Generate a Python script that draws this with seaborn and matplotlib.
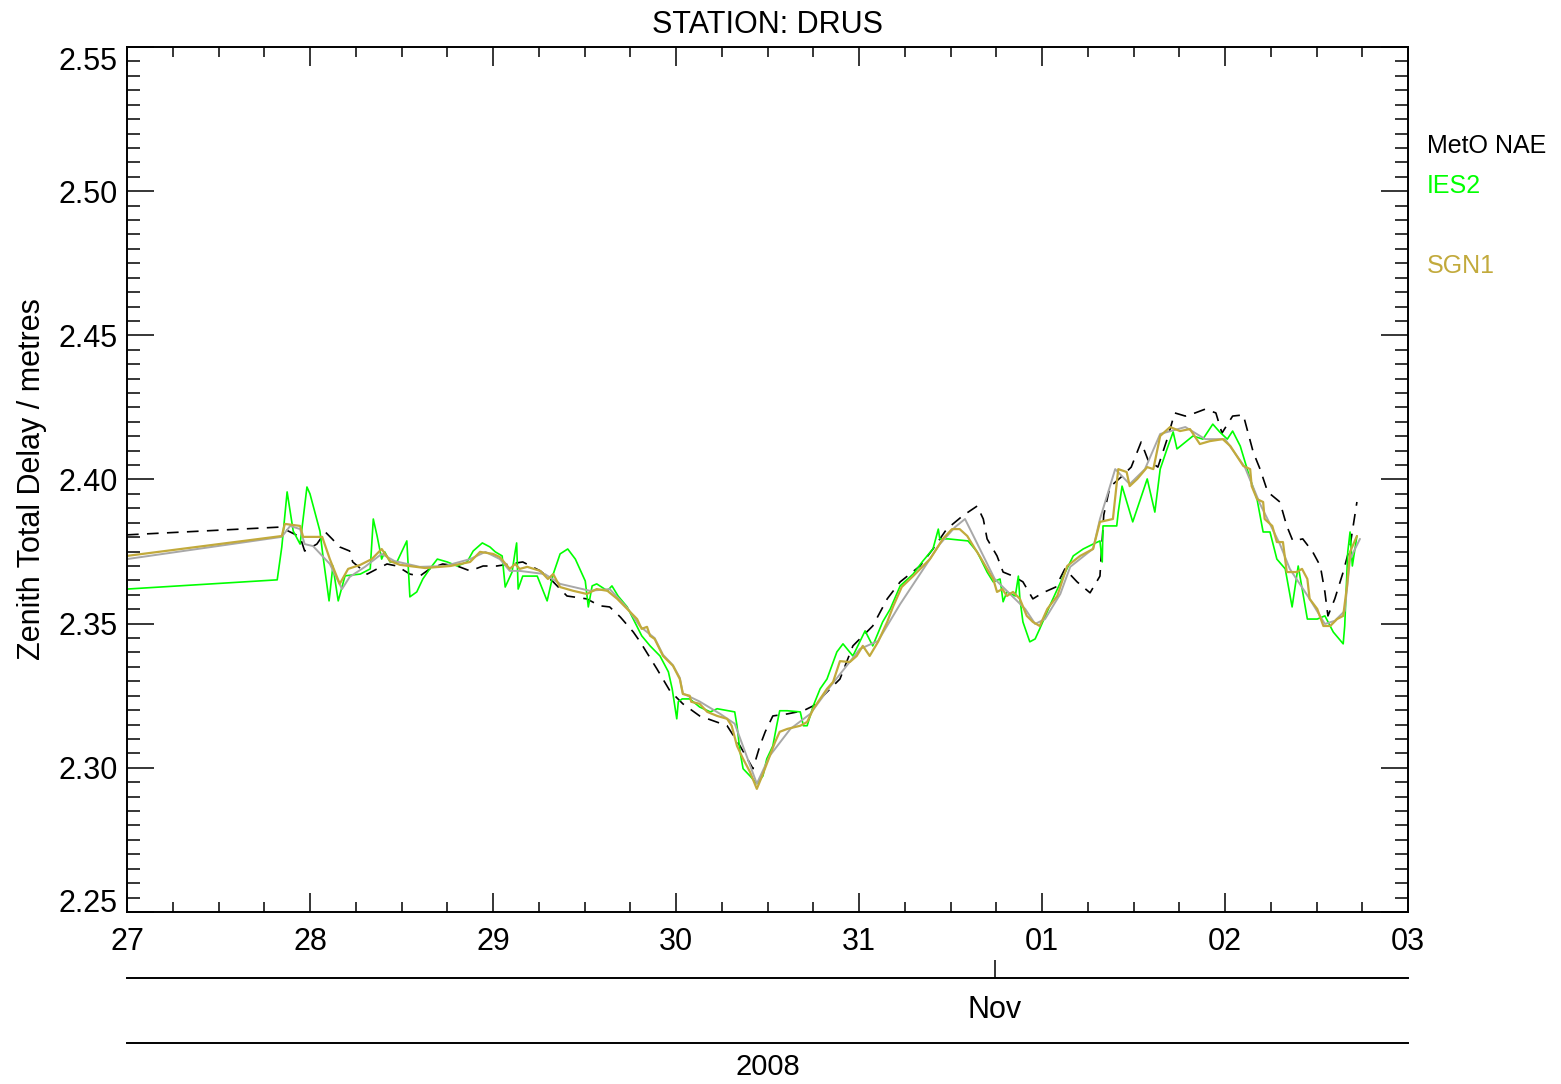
import numpy as np
import pandas as pd
import matplotlib
matplotlib.use("Agg")
import matplotlib.pyplot as plt
import seaborn as sns
from matplotlib.ticker import MultipleLocator, FixedLocator, FormatStrFormatter

# ---------------- data (hours since 27 Oct 2008 00:00, ZTD in metres) ----------------
meto_hours = [0, 20.1, 22.7, 23.3, 24.9, 26.0, 26.9, 27.9, 29.2, 29.6, 31.5, 32.8, 34.1, 35.4,
              37.1, 38.4, 39.7, 41.4, 43.3, 45.0, 46.7, 48.5, 50.2, 51.9, 54.2, 55.9, 57.7,
              60.3, 62.0, 63.3, 64.7, 66.4, 67.3, 69.5, 71.2, 72.9, 75.1, 78.7, 80.4, 82.1,
              83.0, 83.7, 84.7, 86.6, 88.7, 90.0, 91.8, 93.5, 95.2, 97.8, 99.7, 101.4, 104.0,
              105.7, 107.5, 109.6, 111.5, 112.3, 112.8, 114.1, 114.9, 116.2, 117.5, 118.8,
              120.1, 121.8, 123.0, 124.6, 126.3, 127.6, 128.1, 128.9, 130.4, 131.7, 133.0,
              133.9, 135.2, 136.5, 137.4, 138.8, 140.1, 141.4, 142.8, 143.6, 145.0, 146.4,
              147.7, 148.6, 149.6, 151.2, 152.1, 152.9, 154.2, 155.5, 156.5, 157.1, 157.5,
              158.4, 159.5, 160.4, 161.3]
meto_ztd = [2.3808, 2.3835, 2.3801, 2.3752, 2.3776, 2.3818, 2.3794, 2.3766, 2.3752, 2.3714,
            2.3672, 2.3690, 2.3707, 2.3700, 2.3672, 2.3665, 2.3690, 2.3707, 2.3700, 2.3683,
            2.3700, 2.3700, 2.3707, 2.3714, 2.3683, 2.3645, 2.3596, 2.3586, 2.3562, 2.3558,
            2.3523, 2.3471, 2.3437, 2.3343, 2.3267, 2.3222, 2.3180, 2.3146, 2.3076, 2.2997,
            2.3076, 2.3125, 2.3180, 2.3187, 2.3198, 2.3215, 2.3263, 2.3308, 2.3423, 2.3492,
            2.3586, 2.3645, 2.3700, 2.3759, 2.3828, 2.3874, 2.3908, 2.3863, 2.3794, 2.3735,
            2.3679, 2.3665, 2.3645, 2.3586, 2.3607, 2.3627, 2.3690, 2.3645, 2.3607, 2.3665,
            2.3877, 2.3974, 2.4009, 2.4043, 2.4130, 2.4068, 2.4043, 2.4147, 2.4231, 2.4220,
            2.4231, 2.4244, 2.4231, 2.4161, 2.4220, 2.4224, 2.4095, 2.4036, 2.3957, 2.3922,
            2.3839, 2.3787, 2.3794, 2.3749, 2.3700, 2.3610, 2.3527, 2.3586, 2.3679, 2.3769,
            2.3922]

ies2_hours = [0, 19.7, 20.3, 21.0, 21.8, 22.7, 23.6, 24.0, 25.3, 25.7, 26.5, 27.0, 27.7, 28.6,
              30.6, 31.9, 32.3, 32.8, 33.4, 33.8, 34.5, 35.4, 36.7, 37.1, 38.0, 38.8, 39.7,
              40.7, 42.0, 43.3, 44.6, 45.4, 46.6, 47.6, 48.3, 49.2, 49.6, 50.5, 50.9, 51.1,
              51.3, 51.9, 53.8, 55.1, 55.9, 56.8, 57.8, 58.8, 60.1, 60.5, 61.0, 61.6, 63.0,
              63.6, 64.4, 65.6, 66.4, 67.5, 68.6, 69.9, 71.0, 71.5, 72.1, 72.3, 72.8, 73.8,
              75.1, 76.5, 77.4, 79.7, 80.0, 80.4, 80.8, 81.7, 82.6, 83.4, 83.9, 84.7, 85.2,
              85.6, 86.6, 88.3, 88.7, 89.2, 90.0, 90.9, 91.8, 93.1, 93.9, 95.2, 96.8, 97.8,
              99.1, 100.1, 101.4, 103.1, 104.4, 105.7, 106.4, 106.6, 107.7, 110.3, 111.5,
              112.8, 113.6, 114.5, 114.9, 115.4, 116.5, 116.9, 117.1, 117.5, 118.4, 119.1,
              119.7, 121.0, 122.8, 124.1, 125.4, 126.7, 127.6, 127.9, 128.0, 129.8, 130.0,
              130.5, 131.9, 133.8, 134.8, 135.5, 136.4, 137.2, 137.7, 139.8, 141.1, 142.4,
              143.3, 144.3, 145.0, 146.0, 147.3, 148.2, 149.0, 149.9, 150.8, 151.9, 152.8,
              153.6, 154.8, 156.1, 157.1, 158.2, 159.5, 159.7, 160.1, 160.4, 160.7, 161.3]
ies2_ztd = [2.3620, 2.3652, 2.3766, 2.3957, 2.3821, 2.3776, 2.3974, 2.3950, 2.3821, 2.3735,
            2.3579, 2.3700, 2.3579, 2.3666, 2.3672, 2.3690, 2.3863, 2.3804, 2.3724, 2.3749,
            2.3714, 2.3714, 2.3787, 2.3593, 2.3610, 2.3655, 2.3690, 2.3724, 2.3714, 2.3700,
            2.3714, 2.3752, 2.3780, 2.3766, 2.3749, 2.3735, 2.3627, 2.3679, 2.3749, 2.3780,
            2.3620, 2.3665, 2.3665, 2.3579, 2.3672, 2.3742, 2.3759, 2.3724, 2.3648, 2.3558,
            2.3631, 2.3638, 2.3614, 2.3631, 2.3596, 2.3558, 2.3516, 2.3458, 2.3423, 2.3388,
            2.3333, 2.3274, 2.3170, 2.3229, 2.3239, 2.3239, 2.3211, 2.3194, 2.3205, 2.3194,
            2.3146, 2.3055, 2.2997, 2.2972, 2.2945, 2.2972, 2.3031, 2.3076, 2.3146, 2.3198,
            2.3198, 2.3194, 2.3146, 2.3146, 2.3215, 2.3274, 2.3308, 2.3402, 2.3430, 2.3388,
            2.3475, 2.3423, 2.3506, 2.3551, 2.3631, 2.3672, 2.3718, 2.3759, 2.3828, 2.3794,
            2.3794, 2.3787, 2.3749, 2.3679, 2.3645, 2.3655, 2.3576, 2.3610, 2.3596, 2.3665,
            2.3586, 2.3506, 2.3437, 2.3447, 2.3482, 2.3561, 2.3665, 2.3735, 2.3759, 2.3776,
            2.3787, 2.3714, 2.3839, 2.3839, 2.3887, 2.3977, 2.3853, 2.4002, 2.3887, 2.4036,
            2.4106, 2.4165, 2.4106, 2.4151, 2.4140, 2.4192, 2.4165, 2.4140, 2.4168, 2.4116,
            2.4002, 2.3932, 2.3818, 2.3818, 2.3724, 2.3690, 2.3558, 2.3700, 2.3516, 2.3516,
            2.3527, 2.3471, 2.3430, 2.3492, 2.3749, 2.3818, 2.3700, 2.3804]

grey_hours = [0, 20.3, 21.4, 22.7, 23.3, 24.4, 26.6, 28.2, 29.2, 31.2, 33.4, 35.1, 38.4, 41.7,
              45.0, 47.0, 48.9, 50.2, 51.5, 54.8, 56.8, 60.7, 63.3, 65.6, 67.3, 69.2, 70.3,
              71.6, 72.5, 72.9, 75.1, 77.8, 79.7, 82.6, 84.3, 87.0, 89.6, 92.2, 94.8, 96.1,
              98.5, 101.4, 106.6, 108.6, 109.9, 111.2, 113.8, 115.8, 117.8, 119.1, 120.4,
              122.4, 123.7, 126.7, 127.6, 129.6, 131.5, 133.5, 135.5, 138.8, 141.4, 144.0,
              146.6, 148.6, 151.2, 152.5, 155.1, 157.1, 158.4, 159.7, 160.4, 161.7]
grey_ztd = [2.3724, 2.3801, 2.3839, 2.3828, 2.3776, 2.3769, 2.3707, 2.3620, 2.3662, 2.3697,
            2.3742, 2.3717, 2.3697, 2.3700, 2.3724, 2.3749, 2.3724, 2.3683, 2.3683, 2.3672,
            2.3638, 2.3614, 2.3620, 2.3555, 2.3490, 2.3450, 2.3392, 2.3356, 2.3312, 2.3258,
            2.3230, 2.3187, 2.3153, 2.2945, 2.3042, 2.3135, 2.3187, 2.3281, 2.3368, 2.3412,
            2.3440, 2.3568, 2.3776, 2.3835, 2.3863, 2.3794, 2.3655, 2.3603, 2.3551, 2.3499,
            2.3516, 2.3603, 2.3697, 2.3760, 2.3863, 2.4036, 2.3984, 2.4036, 2.4158, 2.4182,
            2.4140, 2.4140, 2.4043, 2.3915, 2.3776, 2.3690, 2.3586, 2.3499, 2.3510, 2.3544,
            2.3724, 2.3794]

sgn1_hours = [0, 20.3, 20.7, 22.7, 23.1, 25.6, 26.6, 27.9, 29.0, 30.6, 32.1, 33.4, 34.5, 35.8,
              39.1, 42.4, 45.0, 46.3, 48.0, 48.9, 50.2, 50.9, 51.5, 52.5, 54.2, 55.2, 55.9,
              56.8, 58.5, 60.3, 61.6, 63.0, 64.3, 65.6, 66.9, 67.5, 68.2, 68.6, 69.2, 70.3,
              71.6, 72.5, 72.9, 73.8, 74.0, 75.1, 76.1, 77.4, 78.7, 79.3, 80.0, 80.8, 81.7,
              82.6, 83.3, 84.3, 85.0, 85.6, 86.6, 88.3, 89.2, 90.0, 90.9, 91.8, 92.6, 93.5,
              94.8, 95.7, 96.5, 97.4, 98.5, 99.7, 100.5, 101.6, 103.1, 105.3, 107.0, 108.2,
              109.2, 110.2, 111.0, 111.9, 112.8, 113.6, 114.1, 114.8, 115.4, 116.2, 117.1,
              118.0, 118.8, 119.7, 120.7, 122.0, 123.3, 125.0, 126.7, 127.6, 129.3, 130.0,
              131.1, 131.5, 132.5, 133.8, 134.6, 135.5, 136.8, 138.1, 139.4, 140.7, 142.0,
              143.7, 144.7, 146.4, 147.3, 147.5, 148.2, 149.0, 149.2, 150.2, 150.8, 151.6,
              152.1, 153.4, 154.1, 154.8, 155.1, 156.1, 156.9, 157.8, 158.7, 159.5, 160.0,
              160.4, 161.3]
sgn1_ztd = [2.3735, 2.3804, 2.3846, 2.3839, 2.3801, 2.3801, 2.3724, 2.3638, 2.3690, 2.3704,
            2.3724, 2.3759, 2.3717, 2.3704, 2.3693, 2.3700, 2.3714, 2.3749, 2.3742, 2.3731,
            2.3690, 2.3707, 2.3690, 2.3697, 2.3683, 2.3655, 2.3672, 2.3627, 2.3614, 2.3603,
            2.3620, 2.3614, 2.3586, 2.3551, 2.3516, 2.3482, 2.3489, 2.3458, 2.3447, 2.3388,
            2.3354, 2.3308, 2.3256, 2.3250, 2.3229, 2.3222, 2.3194, 2.3180, 2.3170, 2.3146,
            2.3076, 2.3031, 2.2986, 2.2927, 2.2972, 2.3042, 2.3090, 2.3125, 2.3135, 2.3146,
            2.3159, 2.3204, 2.3239, 2.3274, 2.3298, 2.3370, 2.3367, 2.3388, 2.3423, 2.3388,
            2.3437, 2.3506, 2.3561, 2.3627, 2.3665, 2.3724, 2.3794, 2.3828, 2.3828, 2.3804,
            2.3769, 2.3731, 2.3690, 2.3655, 2.3610, 2.3620, 2.3596, 2.3610, 2.3586, 2.3527,
            2.3506, 2.3492, 2.3551, 2.3596, 2.3700, 2.3735, 2.3759, 2.3853, 2.3863, 2.4036,
            2.4026, 2.3977, 2.4002, 2.4043, 2.4036, 2.4151, 2.4182, 2.4168, 2.4175, 2.4123,
            2.4133, 2.4140, 2.4116, 2.4047, 2.4036, 2.3977, 2.3932, 2.3922, 2.3863, 2.3839,
            2.3783, 2.3783, 2.3679, 2.3679, 2.3690, 2.3655, 2.3586, 2.3551, 2.3492, 2.3492,
            2.3516, 2.3527, 2.3631, 2.3749, 2.3804]

day_tick_hours = [0, 24, 48, 72, 96, 120, 144, 168]
day_tick_labels = ["27", "28", "29", "30", "31", "01", "02", "03"]
month_tick_hour = [113.8]
month_labels = ["Nov"]
year_label_hour = [84.0]
year_labels = ["2008"]

series_names = ["MetO NAE", "IES2", "", "SGN1"]
series_colors = ["black", "#00FF00", "#A8A8A8", "#C2AA3C"]

# ---------------- styling ----------------
sns.set_style("ticks")
plt.rcParams["font.family"] = ["Liberation Sans", "DejaVu Sans"]
plt.rcParams["text.color"] = "black"
FS = 22
LFS = 18

W, H = 1561, 1084
fig = plt.figure(figsize=(W / 100, H / 100), dpi=100)
ax = fig.add_axes([127 / W, 1 - 912 / H, (1408 - 127) / W, (912 - 47) / H])

# draw series (legend order: MetO NAE, IES2, grey, SGN1 on top)
sns.lineplot(x=meto_hours, y=meto_ztd, ax=ax, color=series_colors[0], linewidth=1.2,
             estimator=None, sort=False, legend=False)
ax.lines[-1].set_dashes([7, 5])
sns.lineplot(x=ies2_hours, y=ies2_ztd, ax=ax, color=series_colors[1], linewidth=1.2,
             estimator=None, sort=False, legend=False)
sns.lineplot(x=grey_hours, y=grey_ztd, ax=ax, color=series_colors[2], linewidth=1.4,
             estimator=None, sort=False, legend=False)
sns.lineplot(x=sgn1_hours, y=sgn1_ztd, ax=ax, color=series_colors[3], linewidth=1.6,
             estimator=None, sort=False, legend=False)

ax.set_xlim(0, 168)
ax.set_ylim(2.25, 2.55)

ax.xaxis.set_major_locator(FixedLocator(day_tick_hours))
ax.set_xticklabels(day_tick_labels)
ax.xaxis.set_minor_locator(MultipleLocator(6))
ax.yaxis.set_major_locator(MultipleLocator(0.05))
ax.yaxis.set_minor_locator(MultipleLocator(0.005))
ax.yaxis.set_major_formatter(FormatStrFormatter("%.2f"))

ax.tick_params(which="both", direction="in", top=True, right=True, color="black",
               labelsize=FS, labelcolor="black")
ax.tick_params(axis="x", which="major", length=13.5, width=1.1, pad=11)
ax.tick_params(axis="x", which="minor", length=7, width=1.1)
ax.tick_params(axis="y", which="major", length=19.5, width=1.1, pad=6.5)
ax.tick_params(axis="y", which="minor", length=9.5, width=1.1)
for sp in ax.spines.values():
    sp.set_linewidth(1.4)
    sp.set_color("black")

# IDL-style: extreme y labels pulled inside the axis range
fig.canvas.draw()
yticks = ax.yaxis.get_major_ticks()
ylocs = ax.yaxis.get_majorticklocs()
for t, loc in zip(yticks, ylocs):
    if abs(loc - 2.55) < 1e-6:
        t.label1.set_verticalalignment("top")
    elif abs(loc - 2.25) < 1e-6:
        t.label1.set_verticalalignment("baseline")

ax.set_xlabel("")
ax.set_ylabel("Zenith Total Delay / metres", fontsize=FS, color="black", labelpad=8)
ax.set_title("STATION: DRUS", fontsize=FS, color="black", pad=10)

# secondary date rows (month, year)
sec1 = ax.secondary_xaxis(-(978 - 912) / (912 - 47))
sec1.set_xticks(month_tick_hour, labels=month_labels)
sec1.tick_params(direction="in", length=13, width=1.1, pad=12, labelsize=FS,
                 color="black", labelcolor="black")
sec1.spines["bottom"].set_linewidth(1.4)
sec1.spines["bottom"].set_color("black")

sec2 = ax.secondary_xaxis(-(1043 - 912) / (912 - 47))
sec2.set_xticks(year_label_hour, labels=year_labels)
sec2.tick_params(direction="in", length=0, pad=7.5, labelsize=FS - 1,
                 color="black", labelcolor="black")
sec2.spines["bottom"].set_linewidth(1.4)
sec2.spines["bottom"].set_color("black")

# legend as coloured text at right
legend_y = [146, 186, 226, 266]
for name, col, yy in zip(series_names, series_colors, legend_y):
    if name:
        fig.text(1427 / W, 1 - yy / H, name, color=col, fontsize=LFS, ha="left", va="center")

fig.savefig("out.png", dpi=100)
